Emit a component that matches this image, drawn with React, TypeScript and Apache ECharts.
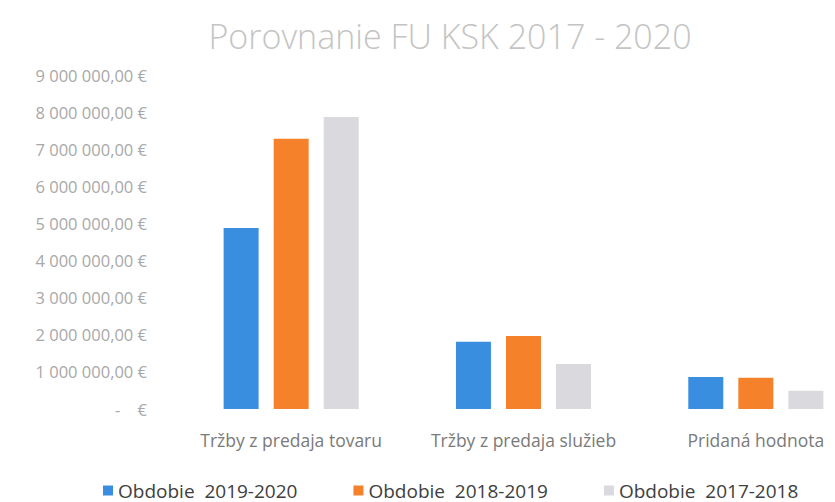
import React, { useEffect, useRef } from "react";
import * as echarts from "echarts";

const categories = ["Tržby z predaja tovaru", "Tržby z predaja služieb", "Pridaná hodnota"];
const seriesNames = ["Obdobie  2019-2020", "Obdobie  2018-2019", "Obdobie  2017-2018"];
const values2019_2020 = [4880000, 1810000, 860000];
const values2018_2019 = [7280000, 1970000, 840000];
const values2017_2018 = [7870000, 1210000, 490000];
const colors = ["#3a8ee0", "#f5822a", "#d9d9de"];

function fmt(v: number): string {
  if (v === 0) return "-    €";
  const s = Math.round(v).toString().replace(/\B(?=(\d{3})+(?!\d))/g, " ");
  return s + ",00 €";
}

export default function App() {
  const ref = useRef<HTMLDivElement>(null);
  useEffect(() => {
    if (!ref.current) return;
    const chart = echarts.init(ref.current, null, { renderer: "svg" });
    const data = [values2019_2020, values2018_2019, values2017_2018];
    chart.setOption({
      animation: false,
      backgroundColor: "#ffffff",
      title: {
        text: "Porovnanie FU KSK 2017 - 2020",
        left: 445,
        textAlign: "center",
        top: 14,
        textStyle: { fontFamily: "Open Sans", fontSize: 34, fontWeight: 300, color: "#c4c4c4" },
      },
      grid: { left: 175, right: 0, top: 75, bottom: 93, containLabel: false },
      legend: {
        data: seriesNames,
        left: 98,
        top: 476,
        icon: "rect",
        itemWidth: 10,
        itemHeight: 10,
        itemGap: 56,
        textStyle: { fontFamily: "Open Sans", fontSize: 19, color: "#404040" },
      },
      xAxis: {
        type: "category",
        data: categories,
        axisLine: { show: false },
        axisTick: { show: false },
        axisLabel: { interval: 0, margin: 22, fontFamily: "Open Sans", fontSize: 17.5, color: "#7a7a7a" },
      },
      yAxis: {
        type: "value",
        min: 0,
        max: 9000000,
        interval: 1000000,
        splitLine: { show: false },
        axisLine: { show: false },
        axisTick: { show: false },
        axisLabel: {
          margin: 28,
          fontFamily: "Open Sans",
          fontSize: 16.5,
          color: "#a8a8a8",
          formatter: (v: number) => fmt(v),
        },
      },
      series: seriesNames.map((name, i) => ({
        name,
        type: "bar",
        data: data[i],
        barWidth: 35,
        barGap: "43%",
        itemStyle: { color: colors[i] },
      })),
    });
    return () => chart.dispose();
  }, []);
  return (
    <div style={{ position: "fixed", left: 0, top: 0, width: 835, height: 502, overflow: "hidden", background: "#fff" }}>
      <div ref={ref} style={{ width: 872, height: 502 }} />
    </div>
  );
}
